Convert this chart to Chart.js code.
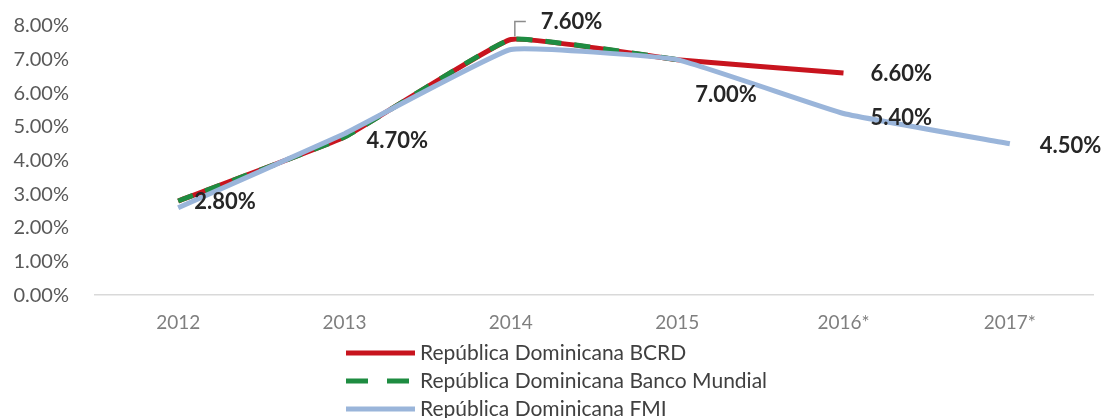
<!DOCTYPE html>
<html>
<head>
<meta charset="utf-8">
<script src="https://cdn.jsdelivr.net/npm/chart.js@4.4.1/dist/chart.umd.min.js"></script>
<style>
  html, body { margin: 0; padding: 0; background: #fff; }
</style>
</head>
<body>
<canvas id="myChart" width="1105" height="418"></canvas>
<script>
// data
const years = ['2012', '2013', '2014', '2015', '2016*', '2017*'];
const bcrd = [2.8, 4.7, 7.6, 7.0, 6.6, null];
const bancoMundial = [2.8, 4.7, 7.6, 7.0, null, null];
const fmi = [2.6, 4.8, 7.3, 7.0, 5.4, 4.5];
const seriesNames = [
  'República Dominicana BCRD',
  'República Dominicana Banco Mundial',
  'República Dominicana FMI'
];
const yTicks = [0, 1, 2, 3, 4, 5, 6, 7, 8];

// which points carry a value label: [dataset, index, dx, dy]
const pointLabels = [
  [0, 0, 16, 1],
  [0, 1, 22, 4],
  [0, 2, 30, -18],
  [0, 3, 18, 35],
  [0, 4, 27, 1],
  [2, 4, 27, 4],
  [2, 5, 30, 2]
];

const labelsPlugin = {
  id: 'pointLabels',
  afterDatasetsDraw(chart) {
    const ctx = chart.ctx;
    ctx.save();
    ctx.font = 'bold 22px Lato';
    ctx.fillStyle = '#262626';
    ctx.textAlign = 'left';
    ctx.textBaseline = 'middle';
    pointLabels.forEach(([ds, i, dx, dy]) => {
      const pt = chart.getDatasetMeta(ds).data[i];
      const v = chart.data.datasets[ds].data[i];
      ctx.fillText(v.toFixed(2) + '%', pt.x + dx, pt.y + dy);
      if (ds === 0 && i === 2) {
        // leader line
        ctx.strokeStyle = '#8c8c8c';
        ctx.lineWidth = 1.5;
        ctx.beginPath();
        ctx.moveTo(pt.x + 4, pt.y - 3);
        ctx.lineTo(pt.x + 4, pt.y + dy);
        ctx.lineTo(pt.x + 15, pt.y + dy);
        ctx.stroke();
      }
    });
    ctx.restore();
  }
};

const legendPlugin = {
  id: 'stackLegend',
  afterDraw(chart) {
    const ctx = chart.ctx;
    ctx.save();
    ctx.font = '21px Lato';
    ctx.fillStyle = '#404040';
    ctx.textBaseline = 'middle';
    chart.data.datasets.forEach((d, k) => {
      const y = chart.height - 65 + k * 28;
      ctx.strokeStyle = d.borderColor;
      ctx.lineWidth = d.borderWidth;
      ctx.setLineDash(k === 1 ? [22, 19] : []);
      ctx.beginPath();
      ctx.moveTo(346, y);
      ctx.lineTo(415, y);
      ctx.stroke();
      ctx.setLineDash([]);
      ctx.fillText(d.label, 420, y);
    });
    ctx.restore();
  }
};

new Chart(document.getElementById('myChart'), {
  type: 'line',
  data: {
    labels: years,
    datasets: [
      {
        label: seriesNames[0],
        data: bcrd,
        borderColor: '#c8141e',
        borderWidth: 5,
        tension: 0.1,
        pointRadius: 0,
        order: 2
      },
      {
        label: seriesNames[1],
        data: bancoMundial,
        borderColor: '#1e8c41',
        borderWidth: 5,
        borderDash: [16, 13],
        tension: 0.1,
        pointRadius: 0,
        order: 1
      },
      {
        label: seriesNames[2],
        data: fmi,
        borderColor: '#9ab5da',
        borderWidth: 5,
        tension: 0.1,
        pointRadius: 0,
        order: 0
      }
    ]
  },
  options: {
    responsive: false,
    animation: false,
    spanGaps: false,
    layout: { padding: { top: 26, right: 12, bottom: 76, left: 0 } },
    plugins: {
      legend: { display: false },
      tooltip: { enabled: false }
    },
    scales: {
      x: {
        offset: true,
        grid: { display: false },
        border: { color: '#d9d9d9', width: 1.5 },
        ticks: {
          padding: 8,
          color: '#7f7f7f',
          font: { family: 'Lato', size: 19 }
        }
      },
      y: {
        min: 0,
        max: 8,
        afterFit(scale) {
          scale.width = 95;
          scale.paddingTop = 0;
          scale.paddingBottom = 0;
        },
        afterBuildTicks(scale) { scale.ticks = yTicks.map(v => ({ value: v })); },
        grid: { display: false, drawTicks: false },
        border: { display: false },
        ticks: {
          padding: 26,
          color: '#595959',
          font: { family: 'Lato', size: 20 },
          callback: v => v.toFixed(2) + '%'
        }
      }
    }
  },
  plugins: [labelsPlugin, legendPlugin]
});
</script>
</body>
</html>
